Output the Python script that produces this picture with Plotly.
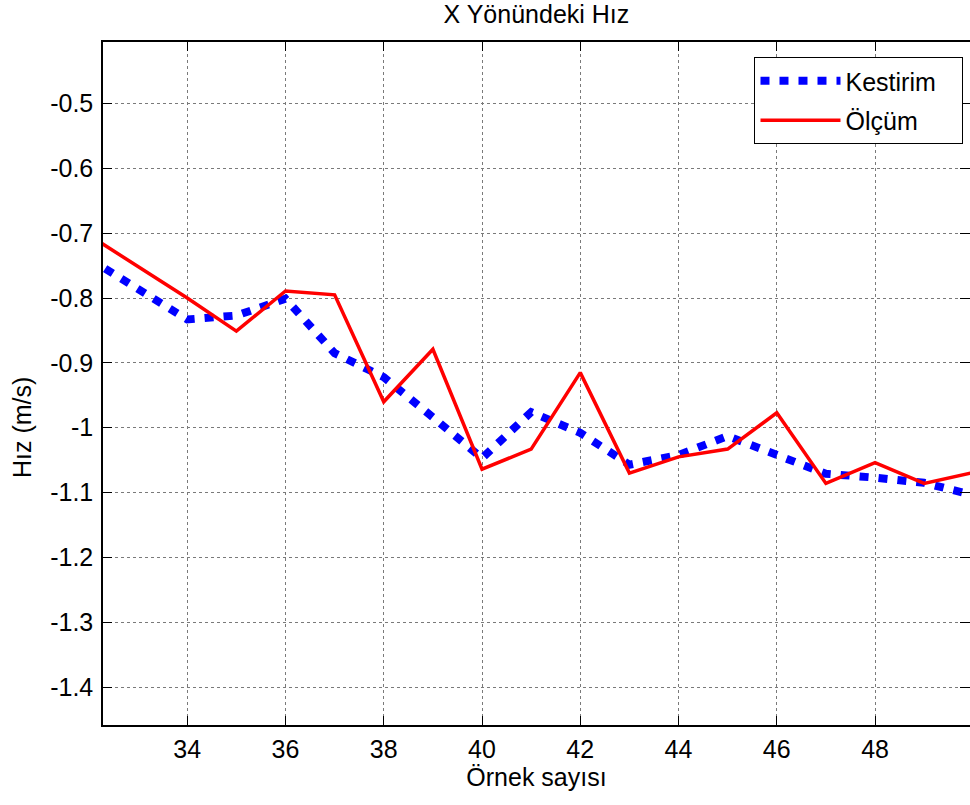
import plotly.graph_objects as go

# Sample index (x axis)
samples = list(range(32, 51))

# Estimated velocity (Kestirim)
kestirim = [-0.739, -0.785, -0.833, -0.827, -0.801, -0.885, -0.922, -0.984, -1.047, -0.976,
            -1.008, -1.057, -1.042, -1.013, -1.043, -1.071, -1.077, -1.085, -1.104]

# Measured velocity (Ölçüm)
olcum = [-0.703, -0.752, -0.800, -0.851, -0.789, -0.795, -0.960, -0.879, -1.064, -1.033,
         -0.915, -1.070, -1.045, -1.033, -0.977, -1.086, -1.054, -1.086, -1.069]

x_ticks = [34, 36, 38, 40, 42, 44, 46, 48]
y_ticks = [-1.4, -1.3, -1.2, -1.1, -1.0, -0.9, -0.8, -0.7, -0.6, -0.5]
y_tick_text = ["-1.4", "-1.3", "-1.2", "-1.1", "-1", "-0.9", "-0.8", "-0.7", "-0.6", "-0.5"]

x_range = [32.285, 49.933]
y_range = [-1.4586, -0.405]

FONT = "Liberation Sans, Arial, sans-serif"

W, H = 970, 805
ML, MR, MT, MB = 103, 0, 42, 80
plot_w = W - ML - MR
plot_h = H - MT - MB

fig = go.Figure()
fig.add_trace(go.Scatter(
    x=samples, y=kestirim, mode="lines",
    name="Kestirim\u00a0\u00a0\u00a0",  # trailing no-break spaces pad the legend box
    line=dict(color="#0000ff", width=8, dash="9px,10px"),
    legendgroup="a",
))
fig.add_trace(go.Scatter(
    x=samples, y=olcum, mode="lines", name="Ölçüm",
    line=dict(color="#ff0000", width=3.5),
    legendgroup="b",
))
# Invisible trace that carries the right-hand tick marks
fig.add_trace(go.Scatter(
    x=[samples[0]], y=[olcum[0]], yaxis="y2", mode="lines",
    showlegend=False, hoverinfo="skip", line=dict(width=0),
))

grid = dict(showgrid=True, gridcolor="#7a7a7a", gridwidth=1, griddash="dot")

fig.update_layout(
    width=W, height=H,
    margin=dict(l=ML, r=MR, t=MT, b=MB),
    paper_bgcolor="white", plot_bgcolor="white",
    font=dict(family=FONT, size=25, color="black"),
    title=dict(text="X Yönündeki Hız", x=0.553, xanchor="center",
               y=1 - 14 / H, yanchor="middle", font=dict(size=25)),
    xaxis=dict(
        range=x_range, tickvals=x_ticks, ticks="inside", ticklen=9,
        tickcolor="black", tickwidth=1, showline=True, linecolor="black",
        linewidth=1.5, mirror="ticks", zeroline=False,
        tickfont=dict(size=25), ticklabelstandoff=1,
        title=dict(text="Örnek sayısı", standoff=6, font=dict(size=25)),
        **grid,
    ),
    yaxis=dict(
        range=y_range, tickvals=y_ticks, ticktext=y_tick_text, ticks="inside",
        ticklen=9, tickcolor="black", tickwidth=1, showline=True,
        linecolor="black", linewidth=1.5, mirror=False, zeroline=False,
        tickfont=dict(size=25), ticklabelstandoff=3,
        **grid,
    ),
    yaxis2=dict(
        range=y_range, tickvals=y_ticks, overlaying="y", side="right",
        ticks="inside", ticklen=10, tickcolor="black", tickwidth=1,
        showticklabels=False, showgrid=False, zeroline=False, showline=False,
    ),
    legend=dict(
        x=0.9925, xanchor="right", y=0.978, yanchor="top",
        bgcolor="white", bordercolor="black", borderwidth=1,
        font=dict(size=25), itemwidth=80, traceorder="grouped",
        tracegroupgap=4,
    ),
)

# Vertical axis label, placed left of the tick labels
fig.add_annotation(
    text="Hız (m/s)", textangle=-90, showarrow=False,
    xref="paper", yref="paper",
    x=-(ML - 22) / plot_w, y=(H - MB - 428) / plot_h,
    xanchor="center", yanchor="middle",
    font=dict(size=25, family=FONT, color="black"),
)

fig.write_html("out.html")
